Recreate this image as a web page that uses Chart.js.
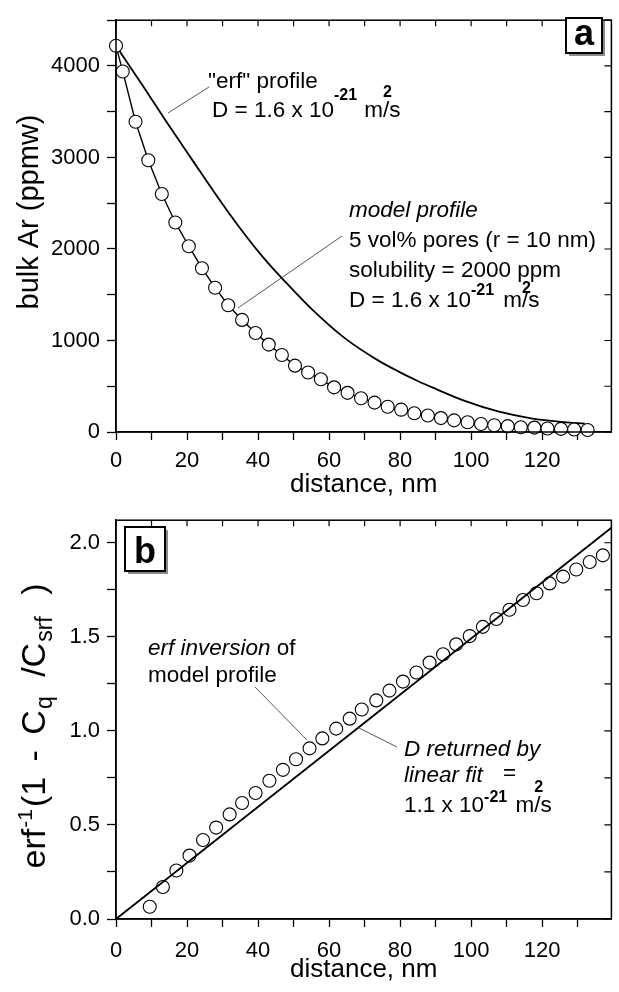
<!DOCTYPE html>
<html><head><meta charset="utf-8">
<script src="https://cdn.jsdelivr.net/npm/chart.js@4/dist/chart.umd.min.js"></script>
<style>
html,body{margin:0;padding:0;background:#fff;}
#wrap{position:relative;width:619px;height:992px;overflow:hidden;}
.box{position:absolute;left:0;width:619px;}
</style></head><body>
<div id="wrap">
<div class="box" style="top:0;height:500px"><canvas id="ca" width="619" height="500"></canvas></div>
<div class="box" style="top:500px;height:492px"><canvas id="cb" width="619" height="492"></canvas></div>
</div>
<script>
// ---------- data ----------
const distA = [0, 1.9, 5.5, 9.1, 12.9, 16.7, 20.5, 24.2, 27.9, 31.6, 35.5, 39.3, 43.0, 46.7, 50.4, 54.1, 57.7, 61.4, 65.2, 69.0, 72.8, 76.5, 80.3, 84.0, 87.8, 91.5, 95.2, 99.0, 102.8, 106.5, 110.3, 114.0, 117.8, 121.5, 125.3, 129.0, 132.8];
const bulkAr = [4220, 3940, 3390, 2970, 2600, 2290, 2030, 1790, 1577, 1385, 1225, 1082, 955, 841, 725, 650, 576, 488, 428, 368, 321, 276, 244, 205, 180, 152, 127, 106, 88, 73, 64, 52, 48, 38, 34, 28, 22];
const erfDist = [0, 7.6, 14.2, 21.7, 28.2, 34.3, 41.2, 47.7, 55.2, 64.6, 73.9, 79.6, 85.1, 88.9, 98.2, 107.6, 116.9, 126.2, 132.0];
const erfAr = [4220, 3780, 3390, 2960, 2590, 2260, 1920, 1640, 1340, 1020, 780, 660, 555, 490, 340, 225, 150, 108, 92];
const distB = [9.5, 13.2, 17.0, 20.7, 24.5, 28.2, 32.0, 35.5, 39.3, 43.2, 47.0, 50.7, 54.5, 58.1, 62.0, 65.8, 69.2, 73.3, 77.0, 80.8, 84.6, 88.3, 92.1, 95.8, 99.6, 103.3, 107.1, 110.8, 114.6, 118.4, 122.1, 125.9, 129.6, 133.4, 137.1];
const erfInv = [0.065, 0.17, 0.258, 0.337, 0.42, 0.486, 0.556, 0.617, 0.67, 0.735, 0.793, 0.849, 0.907, 0.96, 1.012, 1.065, 1.114, 1.162, 1.214, 1.262, 1.31, 1.363, 1.407, 1.46, 1.504, 1.553, 1.595, 1.644, 1.696, 1.732, 1.784, 1.82, 1.858, 1.898, 1.933];
const fitDist = [0, 139.5];
const fitVal = [0, 2.08];
const xTickLabels = [0, 20, 40, 60, 80, 100, 120];
const yTickLabelsA = [0, 1000, 2000, 3000, 4000];
const yTickLabelsB = [0, 0.5, 1.0, 1.5, 2.0];

// ---------- helpers ----------
const FONT = '"Liberation Sans", Arial, Helvetica, sans-serif';
Chart.defaults.font.family = FONT;
Chart.defaults.color = '#000';

function pts(xs, ys){ return xs.map((x,i)=>({x:x, y:ys[i]})); }
function has(list, v){ return list.some(t => Math.abs(t - v) < 1e-9); }

function setFont(ctx, p, base){
  const size = p.size || base;
  ctx.font = (p.i ? 'italic ' : '') + (p.b ? 'bold ' : '') + size + 'px ' + FONT;
}
function rich(ctx, x, y, parts, base){
  let cx = x;
  parts.forEach(p => {
    setFont(ctx, p, base);
    ctx.fillText(p.t, cx, y - (p.up || 0));
    if (!p.noAdv) cx += ctx.measureText(p.t).width + (p.gap || 0);
  });
  return cx - x;
}
function richWidth(ctx, parts, base){
  let w = 0;
  parts.forEach(p => {
    setFont(ctx, p, base);
    if (!p.noAdv) w += ctx.measureText(p.t).width + (p.gap || 0);
  });
  return w;
}
function vTitle(ctx, cx, cy, parts, base){
  ctx.save();
  ctx.fillStyle = '#000'; ctx.textAlign = 'left'; ctx.textBaseline = 'alphabetic';
  const w = richWidth(ctx, parts, base);
  ctx.translate(cx, cy);
  ctx.rotate(-Math.PI / 2);
  rich(ctx, -w / 2, 0, parts, base);
  ctx.restore();
}
function leader(ctx, x1, y1, x2, y2){
  ctx.save(); ctx.strokeStyle = '#444'; ctx.lineWidth = 0.9;
  ctx.beginPath(); ctx.moveTo(x1, y1); ctx.lineTo(x2, y2); ctx.stroke(); ctx.restore();
}
function letterBox(ctx, x, y, w, h, letter, base){
  ctx.save();
  ctx.fillStyle = '#8a8a8a'; ctx.fillRect(x + 3, y + 3, w, h);
  ctx.fillStyle = '#fff'; ctx.fillRect(x, y, w, h);
  ctx.strokeStyle = '#000'; ctx.lineWidth = 2; ctx.strokeRect(x, y, w, h);
  ctx.fillStyle = '#000'; ctx.font = 'bold 36px ' + FONT;
  ctx.textAlign = 'center'; ctx.textBaseline = 'alphabetic';
  ctx.fillText(letter, x + w / 2, base);
  ctx.restore();
}
function frame(chart){
  const {ctx, chartArea: a, scales: {x, y}} = chart;
  ctx.save();
  ctx.strokeStyle = '#000'; ctx.lineWidth = 1.5;
  ctx.strokeRect(a.left, a.top, a.right - a.left, a.bottom - a.top);
  ctx.lineWidth = 1.2;
  ctx.beginPath();
  x.ticks.forEach(t => { const p = x.getPixelForValue(t.value); ctx.moveTo(p, a.top); ctx.lineTo(p, a.top + 6); });
  y.ticks.forEach(t => { const p = y.getPixelForValue(t.value); ctx.moveTo(a.right, p); ctx.lineTo(a.right - 7, p); });
  ctx.stroke();
  ctx.restore();
}

const decorA = {
  id: 'decorA',
  afterDraw(chart){
    const ctx = chart.ctx;
    frame(chart);
    leader(ctx, 168, 113, 209, 87);
    leader(ctx, 238, 308, 342, 236);
    ctx.save();
    ctx.fillStyle = '#000'; ctx.textAlign = 'left'; ctx.textBaseline = 'alphabetic';
    const F = 22.5;
    rich(ctx, 208, 88, [{t: '"erf" profile'}], F);
    rich(ctx, 212, 117, [{t: 'D = 1.6 x 10'}, {t: '-21', b: true, size: 16, up: 17, gap: 1}, {t: ' m'}, {t: '2', b: true, size: 16, up: 20, noAdv: true}, {t: '/s'}], F);
    rich(ctx, 349, 217, [{t: 'model profile', i: true}], F);
    rich(ctx, 349, 247, [{t: '5 vol% pores (r = 10 nm)'}], F);
    rich(ctx, 349, 277, [{t: 'solubility = 2000 ppm'}], F);
    rich(ctx, 349, 307, [{t: 'D = 1.6 x 10'}, {t: '-21', b: true, size: 16, up: 12, gap: 3}, {t: ' m'}, {t: '2', b: true, size: 16, up: 14, noAdv: true}, {t: '/s'}], F);
    ctx.restore();
    vTitle(ctx, 38, 212, [{t: 'bulk Ar (ppmw)'}], 29);
    letterBox(ctx, 566, 18, 36, 35, 'a', 45);
  }
};

const decorB = {
  id: 'decorB',
  afterDraw(chart){
    const ctx = chart.ctx;
    frame(chart);
    leader(ctx, 255, 187, 307, 240);
    leader(ctx, 357, 227, 397, 247);
    ctx.save();
    ctx.fillStyle = '#000'; ctx.textAlign = 'left'; ctx.textBaseline = 'alphabetic';
    const F = 22.5;
    rich(ctx, 148, 155, [{t: 'erf inversion', i: true}, {t: ' of'}], F);
    rich(ctx, 148, 182, [{t: 'model profile'}], F);
    rich(ctx, 404, 256, [{t: 'D returned by', i: true}], F);
    rich(ctx, 404, 282, [{t: 'linear fit', i: true}], F);
    rich(ctx, 503, 280, [{t: '='}], F);
    rich(ctx, 404, 312, [{t: '1.1 x 10'}, {t: '-21', b: true, size: 16, up: 10, gap: 2}, {t: ' m'}, {t: '2', b: true, size: 16, up: 20, noAdv: true}, {t: '/s'}], F);
    ctx.restore();
    vTitle(ctx, 45, 226, [
      {t: 'erf', gap: 1}, {t: '-1', size: 21, up: 13, gap: 2}, {t: '(1', gap: 6}, {t: ' - ', gap: 6},
      {t: 'C', gap: 1}, {t: 'q', size: 23, up: -7, gap: 10}, {t: ' /C', gap: 1},
      {t: 'srf', size: 23, up: -7, gap: 12}, {t: ' )'}
    ], 34);
    letterBox(ctx, 125, 27, 40, 44, 'b', 63);
  }
};

function xScale(h, pad){
  return {
    type: 'linear', min: 0, max: 139.5,
    afterFit(s){ s.height = h; },
    ticks: {stepSize: 10, includeBounds: false, autoSkip: false, maxRotation: 0, padding: pad,
            font: {size: 22}, callback: v => has(xTickLabels, v) ? String(v) : ''},
    grid: {drawOnChartArea: false, tickLength: 8, tickColor: '#000', tickWidth: 1.3},
    border: {color: '#000', width: 1.5},
    title: {display: true, text: 'distance, nm', font: {size: 26}, padding: {top: 0, bottom: 0}}
  };
}

new Chart(document.getElementById('ca'), {
  type: 'scatter',
  data: {datasets: [
    {data: pts(distA, bulkAr), showLine: true, borderColor: '#000', borderWidth: 1.4, tension: 0,
     pointRadius: 6.5, pointBackgroundColor: '#fff', pointBorderColor: '#000', pointBorderWidth: 1.1, clip: false},
    {data: pts(erfDist, erfAr), showLine: true, borderColor: '#000', borderWidth: 1.8,
     cubicInterpolationMode: 'monotone', pointRadius: 0, clip: false}
  ]},
  options: {
    responsive: false, animation: false, events: [],
    layout: {padding: {top: 8, right: 6, left: 0, bottom: 0}},
    plugins: {legend: {display: false}, tooltip: {enabled: false}},
    scales: {
      x: xScale(68, 8),
      y: {
        type: 'linear', min: 0, max: 4500,
        afterFit(s){ s.width = 116; },
        ticks: {stepSize: 500, includeBounds: false, padding: 7, font: {size: 22},
                callback: v => has(yTickLabelsA, v) ? String(v) : ''},
        grid: {drawOnChartArea: false, tickLength: 9, tickColor: '#000', tickWidth: 1.3},
        border: {color: '#000', width: 1.5},
        title: {display: false, text: 'bulk Ar (ppmw)'}
      }
    }
  },
  plugins: [decorA]
});

const xb = xScale(73, 11);
xb.title.padding = {top: 0, bottom: 7};
new Chart(document.getElementById('cb'), {
  type: 'scatter',
  data: {datasets: [
    {data: pts(distB, erfInv), showLine: false,
     pointRadius: 6.5, pointBackgroundColor: 'rgba(255,255,255,0)', pointBorderColor: '#000', pointBorderWidth: 1.1, clip: false},
    {data: pts(fitDist, fitVal), showLine: true, borderColor: '#000', borderWidth: 1.8, pointRadius: 0, clip: false}
  ]},
  options: {
    responsive: false, animation: false, events: [],
    layout: {padding: {top: 16, right: 6, left: 0, bottom: 0}},
    plugins: {legend: {display: false}, tooltip: {enabled: false}},
    scales: {
      x: xb,
      y: {
        type: 'linear', min: 0, max: 2.12,
        afterFit(s){ s.width = 116; },
        ticks: {stepSize: 0.25, includeBounds: false, padding: 7, font: {size: 22},
                callback: v => has(yTickLabelsB, v) ? v.toFixed(1) : ''},
        grid: {drawOnChartArea: false, tickLength: 9, tickColor: '#000', tickWidth: 1.3},
        border: {color: '#000', width: 1.5},
        title: {display: false}
      }
    }
  },
  plugins: [decorB]
});
</script>
</body></html>
